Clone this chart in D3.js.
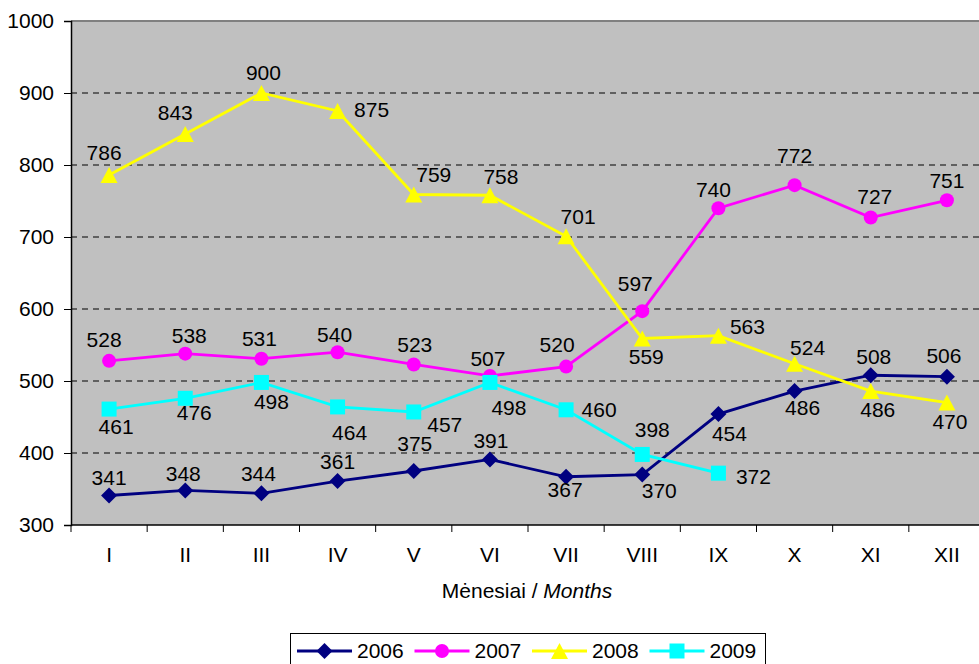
<!DOCTYPE html>
<html>
<head>
<meta charset="utf-8">
<script src="https://cdn.jsdelivr.net/npm/d3@7/dist/d3.min.js"></script>
<style>
  body { margin: 0; background: #fff; }
  svg { display: block; font-family: "Liberation Sans", Arial, sans-serif; }
</style>
</head>
<body>
<svg id="chart" width="979" height="664"></svg>
<script>
// Data
var months = ["I", "II", "III", "IV", "V", "VI", "VII", "VIII", "IX", "X", "XI", "XII"];
var years = ["2006", "2007", "2008", "2009"];
var values2006 = [341, 348, 344, 361, 375, 391, 367, 370, 454, 486, 508, 506];
var values2007 = [528, 538, 531, 540, 523, 507, 520, 597, 740, 772, 727, 751];
var values2008 = [786, 843, 900, 875, 759, 758, 701, 559, 563, 524, 486, 470];
var values2009 = [461, 476, 498, 464, 457, 498, 460, 398, 372];
var yTicks = [300, 400, 500, 600, 700, 800, 900, 1000];

// label nudges (px, label centre relative to marker), like Excel's hand placed labels
var nudge2006 = [[0,-18],[-2,-17],[-3,-20],[0,-20],[1,-28],[1,-19],[-1,13],[17,16],[11,19],[8,16],[3,-19],[-3,-21]];
var nudge2007 = [[-5,-21],[4,-18],[-2,-20],[-3,-18],[1,-20],[-2,-18],[-9,-22],[-7,-28],[-5,-19],[0,-30],[4,-21],[0,-20]];
var nudge2008 = [[-5,-23],[-10,-22],[2,-21],[34,-2],[20,-20],[11,-19],[12,-20],[4,18],[29,-9],[13,-16],[7,18],[3,19]];
var nudge2009 = [[7,17],[9,14],[10,19],[12,26],[31,12],[19,25],[33,0],[10,-25],[35,3]];

var series = [
  { name: years[0], values: values2006, nudge: nudge2006, color: "#000080", marker: "diamond" },
  { name: years[1], values: values2007, nudge: nudge2007, color: "#FF00FF", marker: "circle" },
  { name: years[2], values: values2008, nudge: nudge2008, color: "#FFFF00", marker: "triangle" },
  { name: years[3], values: values2009, nudge: nudge2009, color: "#00FFFF", marker: "square" }
];

var svg = d3.select("#chart");
var fontSize = 21;

// plot area
var plotL = 71, plotT = 21, plotR = 985, plotB = 525;

var x = d3.scaleBand().domain(months).range([plotL, plotR]);
var y = d3.scaleLinear().domain([300, 1000]).range([plotB, plotT]);
function cx(i) { return x(months[i]) + x.bandwidth() / 2; }

svg.append("rect")
  .attr("x", plotL).attr("y", plotT)
  .attr("width", plotR - plotL).attr("height", plotB - plotT)
  .attr("fill", "#C0C0C0");

// dashed grid
svg.append("g")
  .selectAll("line")
  .data(yTicks.filter(function(d) { return d > 300 && d < 1000; }))
  .enter().append("line")
  .attr("x1", plotL).attr("x2", plotR)
  .attr("y1", function(d) { return y(d); })
  .attr("y2", function(d) { return y(d); })
  .attr("stroke", "#000")
  .attr("stroke-width", 1)
  .attr("stroke-dasharray", "6,5");

// top border
svg.append("line")
  .attr("x1", plotL).attr("x2", plotR)
  .attr("y1", plotT).attr("y2", plotT)
  .attr("stroke", "#808080").attr("stroke-width", 2);

// y axis
var yAxis = svg.append("g")
  .attr("transform", "translate(" + plotL + ",0)")
  .call(d3.axisLeft(y).tickValues(yTicks).tickSize(7).tickPadding(10).tickFormat(d3.format("d")));
yAxis.select(".domain").attr("stroke", "#000").attr("stroke-width", 1.5);
yAxis.selectAll(".tick line").attr("stroke", "#000");
yAxis.selectAll("text")
  .attr("font-size", fontSize)
  .attr("font-family", "Liberation Sans, Arial, sans-serif")
  .attr("fill", "#000");

// x axis (ticks between categories)
var xAxis = svg.append("g");
xAxis.append("line")
  .attr("x1", plotL).attr("x2", plotR)
  .attr("y1", plotB).attr("y2", plotB)
  .attr("stroke", "#000").attr("stroke-width", 1.5);
xAxis.selectAll(".tk")
  .data(months)
  .enter().append("line")
  .attr("class", "tk")
  .attr("x1", function(d) { return x(d); })
  .attr("x2", function(d) { return x(d); })
  .attr("y1", plotB).attr("y2", plotB + 7)
  .attr("stroke", "#000");
xAxis.selectAll(".lbl")
  .data(months)
  .enter().append("text")
  .attr("class", "lbl")
  .attr("x", function(d, i) { return cx(i); })
  .attr("y", 562)
  .attr("text-anchor", "middle")
  .attr("font-size", fontSize)
  .text(function(d) { return d; });

var title = svg.append("text")
  .attr("x", 527).attr("y", 598)
  .attr("text-anchor", "middle")
  .attr("font-size", 21);
title.append("tspan").text("Mėnesiai / ");
title.append("tspan").attr("font-style", "italic").text("Months");

// markers
function drawMarker(g, type, color) {
  if (type === "diamond") {
    g.append("path").attr("d", "M0,-8L8,0L0,8L-8,0Z").attr("fill", color);
  } else if (type === "circle") {
    g.append("circle").attr("r", 7).attr("fill", color);
  } else if (type === "triangle") {
    g.append("path").attr("d", "M0,-8L8.5,8L-8.5,8Z").attr("fill", color);
  } else {
    g.append("rect").attr("x", -7.5).attr("y", -7.5).attr("width", 15).attr("height", 15).attr("fill", color);
  }
}

var line = d3.line()
  .x(function(d, i) { return cx(i); })
  .y(function(d) { return y(d); });

series.forEach(function(s) {
  var g = svg.append("g").attr("class", "series");
  g.append("path")
    .datum(s.values)
    .attr("d", line)
    .attr("fill", "none")
    .attr("stroke", s.color)
    .attr("stroke-width", 2.8);
  s.values.forEach(function(v, i) {
    var m = g.append("g").attr("transform", "translate(" + cx(i) + "," + y(v) + ")");
    drawMarker(m, s.marker, s.color);
  });
});

// data labels on top
series.forEach(function(s) {
  svg.append("g")
    .selectAll("text")
    .data(s.values)
    .enter().append("text")
    .attr("x", function(d, i) { return cx(i) + s.nudge[i][0]; })
    .attr("y", function(d, i) { return y(d) + s.nudge[i][1] + fontSize * 0.36; })
    .attr("text-anchor", "middle")
    .attr("font-size", fontSize)
    .attr("fill", "#000")
    .text(function(d) { return d; });
});

// legend
var legend = svg.append("g");
legend.append("rect")
  .attr("x", 290.5).attr("y", 633.5)
  .attr("width", 475).attr("height", 40)
  .attr("fill", "#fff")
  .attr("stroke", "#000").attr("stroke-width", 1);

series.forEach(function(s, i) {
  var lx = 297 + i * 117.5;
  var item = legend.append("g").attr("transform", "translate(" + lx + ",651)");
  item.append("line")
    .attr("x1", 0).attr("x2", 55)
    .attr("stroke", s.color).attr("stroke-width", 2.8);
  drawMarker(item.append("g").attr("transform", "translate(27.5,0)"), s.marker, s.color);
  item.append("text")
    .attr("x", 60).attr("y", 7)
    .attr("font-size", fontSize)
    .text(s.name);
});
</script>
</body>
</html>
